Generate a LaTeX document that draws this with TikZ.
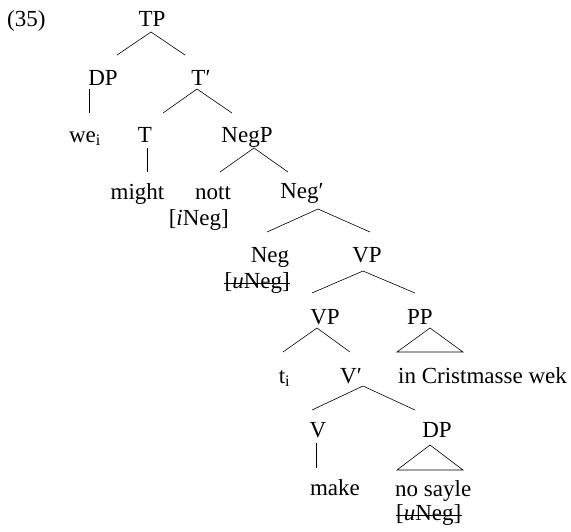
\documentclass[tikz,border=0pt]{standalone}
\usepackage{fontspec}
\setmainfont{Liberation Serif}
\usetikzlibrary{calc}
\begin{document}
\begin{tikzpicture}[x=1pt,y=-1pt,
  lbl/.style={inner sep=0pt,anchor=base,font=\fontsize{23}{27}\selectfont},
  br/.style={line width=0.6pt},
  strike/.style={line width=0.9pt}]
\useasboundingbox (0,0) rectangle (571,531);
% labels
\node[lbl,anchor=base west] (num) at (7,26) {(35)};
\node[lbl] (tp) at (152,26) {TP};
\node[lbl] (dpa) at (103,85) {DP};
\node[lbl] (tbar) at (201,85) {T\char"2032};
\node[lbl] (we) at (85,142) {we\textsubscript{i}};
\node[lbl] (t) at (145,142) {T};
\node[lbl] (negp) at (247,142) {NegP};
\node[lbl] (might) at (137.5,199) {might};
\node[lbl] (nott) at (213,199) {nott};
\node[lbl,anchor=base east] (ineg) at (229,225) {[\textit{i}Neg]};
\node[lbl] (negbar) at (302,198) {Neg\char"2032};
\node[lbl] (neg) at (270,262) {Neg};
\node[lbl,anchor=base east] (unega) at (290,288) {[\textit{u}Neg]};
\node[lbl] (vpa) at (367,262) {VP};
\node[lbl] (vpb) at (325,324) {VP};
\node[lbl] (pp) at (420,324) {PP};
\node[lbl] (ti) at (284.5,383) {t\textsubscript{i}};
\node[lbl] (vbar) at (351,383) {V\char"2032};
\node[lbl] (incw) at (482.5,383) {in Cristmasse wek};
\node[lbl] (v) at (318,437) {V};
\node[lbl] (dpb) at (437,437) {DP};
\node[lbl] (make) at (335,495) {make};
\node[lbl,anchor=base west] (nosayle) at (395,496) {no sayle};
\node[lbl,anchor=base west] (unegb) at (396,520) {[\textit{u}Neg]};
% strike-throughs
\draw[strike] ($(unega.base west)+(0,-4.5)$) -- ($(unega.base east)+(0,-4.5)$);
\draw[strike] ($(unegb.base west)+(0,-4.5)$) -- ($(unegb.base east)+(0,-4.5)$);
% branches
\draw[br] ($(dpa.base)+(14,-30)$) -- ($(tp.base)+(-1,6)$) -- ($(tbar.base)+(-16,-30)$);
\draw[br] ($(dpa.base)+(-14,4)$) -- ($(we.base)+(4,-29)$);
\draw[br] ($(t.base)+(18,-29)$) -- ($(tbar.base)+(-4,4)$) -- ($(negp.base)+(-15,-29)$);
\draw[br] ($(t.base)+(2,6)$) -- ($(might.base)+(9.5,-27)$);
\draw[br] ($(nott.base)+(7,-27)$) -- ($(negp.base)+(7,6)$) -- ($(negbar.base)+(-14,-26)$);
\draw[br] ($(neg.base)+(-3,-30)$) -- ($(negbar.base)+(16,11)$) -- ($(vpa.base)+(3,-30)$);
\draw[br] ($(vpb.base)+(-13,-31)$) -- ($(vpa.base)+(-4,9)$) -- ($(pp.base)+(-5,-31)$);
\draw[br] ($(ti.base)+(-1.5,-31)$) -- ($(vpb.base)+(-8,4)$) -- ($(vbar.base)+(-1,-31)$);
\draw[br] ($(pp.base)+(10,4)$) -- ($(incw.base)+(-85.5,-31)$) -- ($(incw.base)+(-19.5,-31)$) -- cycle;
\draw[br] ($(v.base)+(-6,-27)$) -- ($(vbar.base)+(12,3)$) -- ($(dpb.base)+(-22,-27)$);
\draw[br] ($(v.base)+(-2,6)$) -- ($(make.base)+(-19,-27)$);
\draw[br] ($(dpb.base)+(-7,8)$) -- ($(nosayle.base west)+(2,-26)$) -- ($(nosayle.base west)+(68,-26)$) -- cycle;
\end{tikzpicture}
\end{document}
